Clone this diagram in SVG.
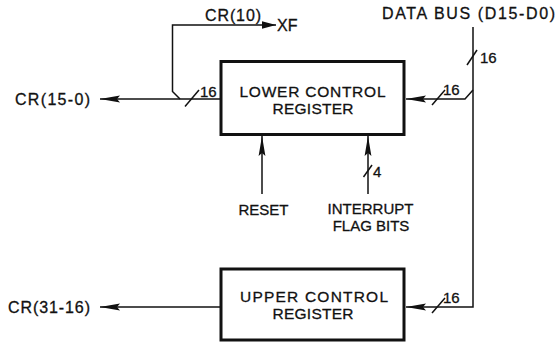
<svg xmlns="http://www.w3.org/2000/svg" width="557" height="342" viewBox="0 0 557 342">
<style>
text{font-family:"Liberation Sans",Arial,sans-serif;fill:#111;stroke:#111;stroke-width:0.3;}
.box{fill:none;stroke:#111;stroke-width:3;}
.ln{fill:none;stroke:#111;stroke-width:1.5;}
.bl{font-size:15.5px;text-anchor:middle;}
.lb{font-size:16px;}
.sm{font-size:15px;}
.mid{text-anchor:middle;}
</style>
<defs>
<marker id="ah" markerUnits="userSpaceOnUse" markerWidth="22" markerHeight="8" refX="20" refY="4" orient="auto" viewBox="0 0 22 8">
<path d="M0,0.6 L20,4 L0,7.4 L3,4 z" fill="#111"/>
</marker>
<marker id="ahs" markerUnits="userSpaceOnUse" markerWidth="15" markerHeight="9" refX="14" refY="4.5" orient="auto" viewBox="0 0 15 9">
<path d="M0,0.8 L14,4.5 L0,8.2 z" fill="#111"/>
</marker>
</defs>
<rect width="557" height="342" fill="#fff"/>

<g id="lower-control-register">
<rect class="box" x="221" y="61.5" width="183" height="73"/>
<text class="bl"><tspan x="312.5" y="97" textLength="146" lengthAdjust="spacing">LOWER CONTROL</tspan><tspan x="313" y="114" textLength="81" lengthAdjust="spacing">REGISTER</tspan></text>
</g>

<g id="upper-control-register">
<rect class="box" x="221" y="269" width="183" height="71"/>
<text class="bl"><tspan x="314" y="302" textLength="148" lengthAdjust="spacing">UPPER CONTROL</tspan><tspan x="313" y="319" textLength="81" lengthAdjust="spacing">REGISTER</tspan></text>
</g>

<g id="data-bus">
<text class="lb" x="382" y="18.5" textLength="173" lengthAdjust="spacing">DATA BUS (D15-D0)</text>
</g>
<g id="cr-15-0"><text class="lb" x="15" y="104.5" textLength="75" lengthAdjust="spacing">CR(15-0)</text></g>
<g id="cr-31-16"><text class="lb" x="8" y="313" textLength="82" lengthAdjust="spacing">CR(31-16)</text></g>
<g id="xf"><text class="lb" x="277" y="31">XF</text></g>
<g id="reset"><text class="sm mid" x="263.5" y="215">RESET</text></g>
<g id="interrupt-flag-bits">
<text class="sm mid"><tspan x="370.5" y="214">INTERRUPT</tspan><tspan x="371" y="231">FLAG BITS</tspan></text>
</g>

<g id="connectors">
<polyline class="ln" points="180,99 172.5,91.5 172.5,25 276,25" marker-end="url(#ahs)"/>
<text class="lb" x="205" y="20.5" textLength="56" lengthAdjust="spacing">CR(10)</text>
<line class="ln" x1="220" y1="99" x2="100" y2="99" marker-end="url(#ah)"/>
<line class="ln" x1="185" y1="106.5" x2="199" y2="90"/>
<text class="sm" x="200" y="97">16</text>
<line class="ln" x1="220" y1="307" x2="100" y2="307" marker-end="url(#ah)"/>
<line class="ln" x1="262" y1="194" x2="262" y2="136" marker-end="url(#ah)"/>
<line class="ln" x1="368" y1="194" x2="368" y2="136" marker-end="url(#ah)"/>
<line class="ln" x1="363.5" y1="177" x2="372" y2="165"/>
<text class="sm" x="373" y="177">4</text>
<polyline class="ln" points="473,27 473,307 406,307" marker-end="url(#ah)"/>
<line class="ln" x1="467" y1="65" x2="477" y2="50"/>
<text class="sm" x="480" y="63">16</text>
<polyline class="ln" points="473,90 465,99 406,99" marker-end="url(#ah)"/>
<line class="ln" x1="432" y1="105" x2="445" y2="90"/>
<text class="sm" x="443" y="95">16</text>
<line class="ln" x1="432" y1="313" x2="445" y2="298"/>
<text class="sm" x="443" y="303">16</text>
</g>
</svg>
